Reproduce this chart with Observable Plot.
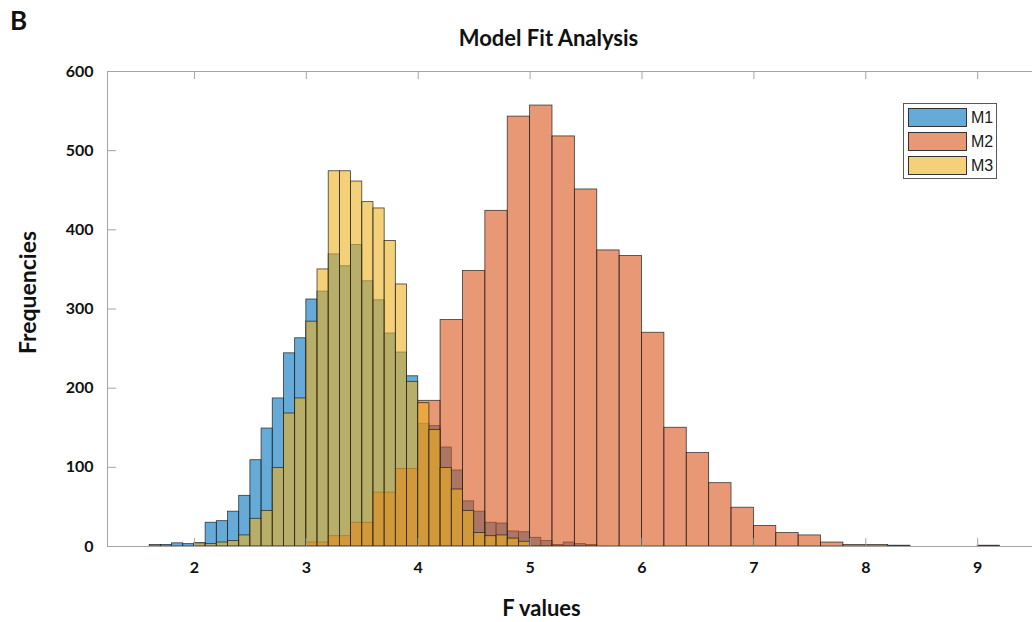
<!DOCTYPE html>
<html><head><meta charset="utf-8">
<script src="https://cdn.jsdelivr.net/npm/d3@7"></script>
<script src="https://cdn.jsdelivr.net/npm/@observablehq/plot@0.6"></script>
<style>
body{margin:0;background:#fff;}
#wrap{position:relative;width:1032px;height:622px;overflow:hidden;}
.legend{position:absolute;left:903px;top:103px;width:94px;height:76px;border:1px solid #5a5a5a;background:#fff;box-sizing:border-box;}
.item{position:absolute;left:4px;height:19px;display:flex;align-items:center;}
.sw{width:59px;height:19px;box-sizing:border-box;border:1px solid #333;}
.lab{margin-left:4px;font:16px "Liberation Sans",Arial,sans-serif;color:#1a1a1a;}
</style></head><body><div id="wrap"></div>
<script>
// ---- data ----
const seriesNames = ["M1", "M2", "M3"];
const seriesColors = ["#0072BD", "#D95319", "#EDB120"];

// M1 and M3 share the same bins (width 0.1)
const binWidth13 = 0.1;
const bins13 = [1.6,1.7,1.8,1.9,2.0,2.1,2.2,2.3,2.4,2.5,2.6,2.7,2.8,2.9,3.0,3.1,3.2,3.3,3.4,3.5,
                3.6,3.7,3.8,3.9,4.0,4.1,4.2,4.3,4.4,4.5,4.6,4.7,4.8,4.9,5.0,5.1,5.2,5.3,5.4,5.5];
const m1Counts = [2,2,4,3,4,30,32,44,64,109,149,187,244,263,312,322,369,354,381,335,
                  311,269,245,215,155,152,125,96,57,44,30,29,19,18,11,7,2,5,3,2];
const m3Counts = [0,0,0,0,4,3,5,7,14,35,45,99,168,187,284,350,474,474,461,435,
                  427,386,331,208,181,147,99,72,45,17,13,14,10,6,0,0,0,0,0,0];

// M2 bins (width 0.2)
const binWidth2 = 0.2;
const bins2 = [3.0,3.2,3.4,3.6,3.8,4.0,4.2,4.4,4.6,4.8,5.0,5.2,5.4,5.6,5.8,6.0,
               6.2,6.4,6.6,6.8,7.0,7.2,7.4,7.6,7.8,8.0,8.2,8.4,8.6,8.8,9.0];
const m2Counts = [5,13,30,68,98,184,286,348,424,543,557,518,451,374,367,270,
                  150,118,80,49,26,17,14,5,2,2,1,0,0,0,1];

const xTicks = [2,3,4,5,6,7,8,9];
const yTicks = [0,100,200,300,400,500,600];
const xDomain = [1.223, 9.49];
const yDomain = [0, 600];

const titleText = "Model Fit Analysis";
const panelLetter = "B";
const xLabel = "F values";
const yLabel = "Frequencies";

// ---- build tables ----
const toRows = (bins, counts, w) => bins.map((b, i) => ({x1: b, x2: b + w, n: counts[i]})).filter(d => d.n > 0);
const m1 = toRows(bins13, m1Counts, binWidth13);
const m2 = toRows(bins2, m2Counts, binWidth2);
const m3 = toRows(bins13, m3Counts, binWidth13);

const W = 1032, H = 622, mL = 107, mT = 71, mB = 76;
const plotW = W - mL, plotH = H - mT - mB;
const axisGray = "#a4a4a4";
const barOpts = (c) => ({x1: "x1", x2: "x2", y1: 0, y2: "n", fill: c, fillOpacity: 0.6,
  stroke: "#1e1e1e", strokeWidth: 0.8, strokeOpacity: 0.85, inset: 0});
const label = (t, anchor, dx, dy, size, extra = {}) =>
  Plot.text([t], {text: d => d, frameAnchor: anchor, dx, dy, fontSize: size,
    textAnchor: "middle", lineAnchor: "middle", ...extra});

const chart = Plot.plot({
  width: W, height: H,
  marginLeft: mL, marginRight: 0, marginTop: mT, marginBottom: mB,
  style: "font-family: Lato, 'Open Sans', sans-serif; font-weight: bold; color: #111; background: #fff; overflow: visible;",
  x: {domain: xDomain, label: null},
  y: {domain: yDomain, label: null},
  marks: [
    Plot.rectY(m1, barOpts(seriesColors[0])),
    Plot.rectY(m2, barOpts(seriesColors[1])),
    Plot.rectY(m3, barOpts(seriesColors[2])),
    Plot.ruleY([yDomain[0]], {stroke: axisGray}),
    Plot.ruleY([yDomain[1]], {stroke: axisGray}),
    Plot.ruleX([xDomain[0]], {stroke: axisGray}),
    Plot.tickY(yTicks, {y: d => d, insetRight: plotW - 9, stroke: axisGray}),
    Plot.tickX(xTicks, {x: d => d, insetTop: plotH - 8, stroke: axisGray}),
    Plot.tickX(xTicks, {x: d => d, insetBottom: plotH - 8, stroke: axisGray}),
    Plot.axisY({ticks: yTicks, tickSize: 0, tickPadding: 14, fontSize: 16, label: null}),
    Plot.axisX({ticks: xTicks, tickSize: 0, tickPadding: 15, fontSize: 16, label: null}),
    label(titleText, "top", -21.5, -33, 22),
    label(panelLetter, "top-left", -89, -50, 26),
    label(xLabel, "bottom", -28.5, 62, 22),
    label(yLabel, "left", -78.5, -16.5, 23, {rotate: -90})
  ]
});

const wrap = document.getElementById("wrap");
wrap.append(chart);

const legend = document.createElement("div");
legend.className = "legend";
seriesNames.forEach((name, i) => {
  const item = document.createElement("div");
  item.className = "item";
  item.style.top = (4 + i * 24) + "px";
  const sw = document.createElement("div");
  sw.className = "sw";
  sw.style.background = d3.color(seriesColors[i]).copy({opacity: 0.6}).formatRgb();
  const lab = document.createElement("span");
  lab.className = "lab";
  lab.textContent = name;
  item.append(sw, lab);
  legend.append(item);
});
wrap.append(legend);
</script>
</body></html>
